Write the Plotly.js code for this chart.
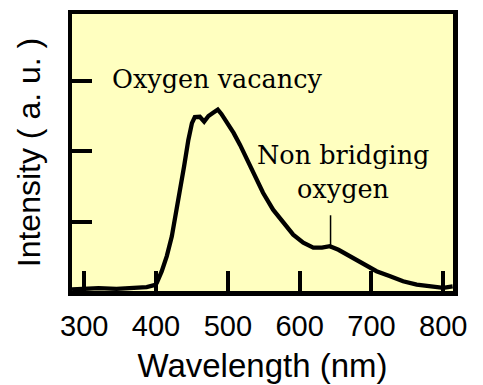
<!DOCTYPE html>
<html>
<head>
<meta charset="utf-8">
<script src="https://cdn.plot.ly/plotly-3.0.1.min.js"></script>
<style>html,body{margin:0;padding:0;background:#fff;}#chart{width:483px;height:385px;}</style>
</head>
<body>
<div id="chart"></div>
<script>
// Emission spectrum
const wavelength = [283, 300, 320, 345, 368, 387, 399, 401, 408, 415, 422, 428, 433, 439, 445, 450, 454, 461, 467, 473, 480, 486, 491, 498, 508, 517, 526, 536, 549, 563, 577, 591, 605, 619, 631, 642, 654, 670, 689, 707, 726, 744, 763, 782, 800, 813];
const intensity  = [0.035, 0.045, 0.055, 0.045, 0.06, 0.07, 0.10, 0.13, 0.295, 0.51, 0.79, 1.12, 1.45, 1.78, 2.16, 2.40, 2.485, 2.49, 2.42, 2.50, 2.55, 2.59, 2.53, 2.42, 2.26, 2.09, 1.90, 1.70, 1.41, 1.17, 0.98, 0.815, 0.70, 0.63, 0.63, 0.65, 0.60, 0.51, 0.39, 0.295, 0.225, 0.153, 0.106, 0.082, 0.06, 0.08];

const xTickVals = [300, 400, 500, 600, 700, 800];
const xTickText = ['300', '400', '500', '600', '700', '800'];
const yTickVals = [1, 2, 3];

// "Non bridging oxygen" marker line
const nboWavelength = [643, 643];
const nboRange = [0.62, 1.09];

const labels = ['Oxygen vacancy', 'Non bridging', 'oxygen'];
const labelX = [485.5, 660, 660];
const labelY = [3.03, 1.95, 1.46];

const traces = [
  {x: wavelength, y: intensity, type: 'scatter', mode: 'lines',
   line: {color: '#000', width: 4.3}, hoverinfo: 'skip'},
  {x: nboWavelength, y: nboRange, type: 'scatter', mode: 'lines',
   line: {color: '#000', width: 1.5}, hoverinfo: 'skip'}
];

const serif = {family: 'DejaVu Serif', size: 25.5, color: '#000'};
const annotations = labels.map((t, i) => ({
  text: t, x: labelX[i], y: labelY[i], xref: 'x', yref: 'y',
  showarrow: false, xanchor: 'center', yanchor: 'middle', font: serif
}));

const layout = {
  width: 483, height: 385,
  margin: {l: 72, r: 30, t: 14, b: 93.5, pad: 0},
  paper_bgcolor: '#ffffff',
  plot_bgcolor: '#ffffc0',
  showlegend: false,
  xaxis: {
    range: [283, 813.5], tickvals: xTickVals, ticktext: xTickText,
    ticks: 'inside', ticklen: 20, tickwidth: 4, tickcolor: '#000',
    ticklabelstandoff: 6,
    showline: true, linewidth: 4.5, linecolor: '#000', mirror: true,
    showgrid: false, zeroline: false,
    tickfont: {family: 'Liberation Sans', size: 29, color: '#000'},
    title: {text: 'Wavelength (nm)', font: {family: 'Liberation Sans', size: 33, color: '#000'}, standoff: 14}
  },
  yaxis: {
    range: [0.014, 3.95], tickvals: yTickVals, showticklabels: false,
    ticks: 'inside', ticklen: 20, tickwidth: 4, tickcolor: '#000',
    showline: true, linewidth: 4.5, linecolor: '#000', mirror: true,
    showgrid: false, zeroline: false,
    title: {text: 'Intensity ( a. u. )', font: {family: 'Liberation Sans', size: 32, color: '#000'}, standoff: 19}
  },
  annotations: annotations
};

Plotly.newPlot('chart', traces, layout, {staticPlot: true, displayModeBar: false});
</script>
</body>
</html>
